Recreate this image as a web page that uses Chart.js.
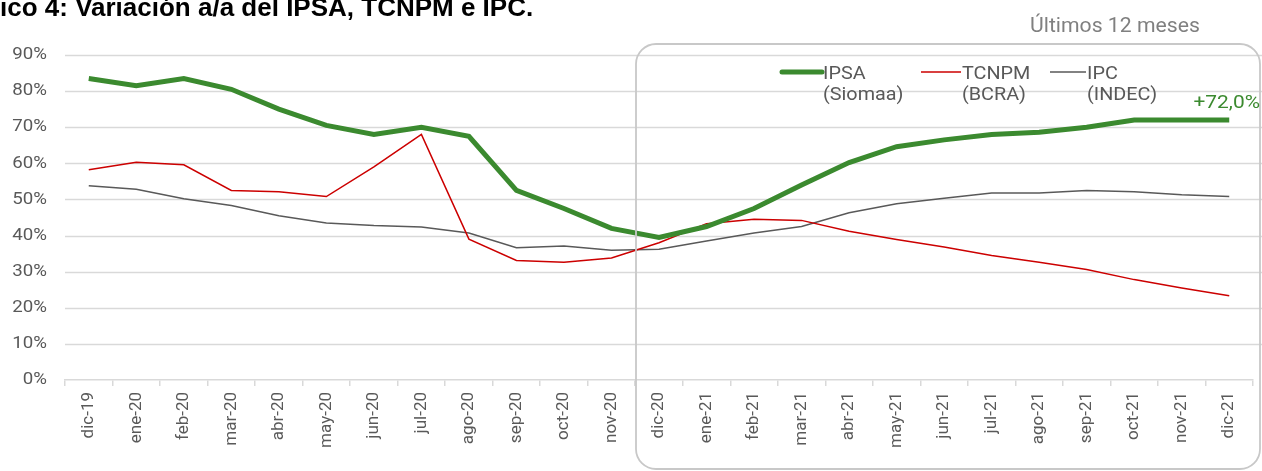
<!DOCTYPE html>
<html lang="es">
<head>
<meta charset="UTF-8">
<title>Variación a/a del IPSA, TCNPM e IPC</title>
<script src="https://cdn.jsdelivr.net/npm/chart.js"></script>
<style>
  body { margin: 0; background: #fff; }
  #wrap { position: relative; width: 1262px; height: 471px; overflow: hidden; }
</style>
</head>
<body>
<div id="wrap">
  <canvas id="lineChart" width="1262" height="471"></canvas>
</div>
<script type="text/javascript">
// meses
var meses = ['dic-19','ene-20','feb-20','mar-20','abr-20','may-20','jun-20','jul-20','ago-20','sep-20','oct-20','nov-20',
             'dic-20','ene-21','feb-21','mar-21','abr-21','may-21','jun-21','jul-21','ago-21','sep-21','oct-21','nov-21','dic-21'];

// variacion a/a en %
var ipsa  = [83.5, 81.5, 83.5, 80.5, 75.0, 70.5, 68.0, 70.0, 67.5, 52.5, 47.5, 42.0,
             39.5, 42.5, 47.5, 54.0, 60.2, 64.6, 66.5, 68.0, 68.6, 70.0, 72.0, 72.0, 72.0];
var tcnpm = [58.2, 60.3, 59.6, 52.5, 52.1, 50.8, 59.0, 68.0, 39.0, 33.1, 32.6, 33.8,
             38.0, 43.3, 44.5, 44.2, 41.2, 38.9, 36.8, 34.5, 32.6, 30.6, 27.8, 25.5, 23.3];
var ipc   = [53.8, 52.8, 50.2, 48.3, 45.5, 43.5, 42.8, 42.4, 40.7, 36.6, 37.1, 35.9,
             36.2, 38.5, 40.7, 42.5, 46.3, 48.8, 50.3, 51.8, 51.8, 52.5, 52.1, 51.3, 50.8];

var yTicks = [0, 10, 20, 30, 40, 50, 60, 70, 80, 90];

var verde = '#3b8a2f';
var rojo  = '#cc0000';
var gris  = '#595959';

// el grafico original esta algo estirado a lo ancho
function texto(ctx, s, x, y, align, sx) {
  ctx.save();
  ctx.translate(x, y);
  ctx.scale(sx, 1);
  ctx.textAlign = align;
  ctx.fillText(s, 0, 0);
  ctx.restore();
}

// grilla horizontal hasta el borde + recuadro "ultimos 12 meses" + textos
var extras = {
  id: 'extras',
  beforeDatasetsDraw: function (chart) {
    var ctx = chart.ctx, y = chart.scales.y;
    ctx.save();
    ctx.strokeStyle = '#d9d9d9';
    ctx.lineWidth = 1.5;
    yTicks.forEach(function (v) {
      if (v === 0) return;
      var py = Math.round(y.getPixelForValue(v)) + 0.5;
      ctx.beginPath();
      ctx.moveTo(chart.chartArea.left, py);
      ctx.lineTo(chart.width, py);
      ctx.stroke();
    });
    // etiquetas del eje y
    ctx.fillStyle = gris;
    ctx.font = '17px Roboto';
    ctx.textBaseline = 'middle';
    yTicks.forEach(function (v) {
      texto(ctx, v + '%', 47, y.getPixelForValue(v), 'right', 1.1);
    });
    ctx.restore();
  },
  afterDraw: function (chart) {
    var ctx = chart.ctx;
    ctx.save();
    // recuadro
    ctx.strokeStyle = '#c8c8c8';
    ctx.lineWidth = 1.8;
    ctx.beginPath();
    ctx.roundRect(636, 44, 624, 425, 20);
    ctx.stroke();

    ctx.textBaseline = 'alphabetic';
    // titulo (cortado arriba a la izquierda)
    ctx.fillStyle = '#000';
    ctx.font = 'bold 26px "Liberation Sans", Arial, sans-serif';
    texto(ctx, 'ico 4: Variación a/a del IPSA, TCNPM e IPC.', 0, 16, 'left', 1);

    ctx.fillStyle = '#808080';
    ctx.font = '20px Roboto';
    texto(ctx, 'Últimos 12 meses', 1030, 32, 'left', 1.06);

    // leyenda
    var items = [
      { x: 782, w: 40, color: verde, lw: 5, l1: 'IPSA', l2: '(Siomaa)' },
      { x: 921, w: 40, color: rojo, lw: 1.5, l1: 'TCNPM', l2: '(BCRA)' },
      { x: 1050, w: 36, color: gris, lw: 1.5, l1: 'IPC', l2: '(INDEC)' }
    ];
    ctx.font = '18px Roboto';
    items.forEach(function (it) {
      ctx.strokeStyle = it.color;
      ctx.lineWidth = it.lw;
      ctx.lineCap = it.lw > 2 ? 'round' : 'butt';
      ctx.beginPath();
      ctx.moveTo(it.x, 72);
      ctx.lineTo(it.x + it.w, 72);
      ctx.stroke();
      ctx.fillStyle = gris;
      texto(ctx, it.l1, it.x + it.w + 1, 79, 'left', 1.1);
      texto(ctx, it.l2, it.x + it.w + 1, 100, 'left', 1.1);
    });

    // etiqueta ultimo dato
    ctx.fillStyle = verde;
    ctx.font = '19px Roboto';
    texto(ctx, '+' + ipsa[ipsa.length - 1].toFixed(1).replace('.', ',') + '%', 1260, 108, 'right', 1.1);
    ctx.restore();
  }
};

var ctx = document.getElementById('lineChart').getContext('2d');
var myChart = new Chart(ctx, {
  type: 'line',
  data: {
    labels: meses,
    datasets: [
      { label: 'IPSA (Siomaa)', data: ipsa, borderColor: verde, borderWidth: 5, pointRadius: 0, fill: false, order: 0 },
      { label: 'TCNPM (BCRA)', data: tcnpm, borderColor: rojo, borderWidth: 1.5, pointRadius: 0, fill: false, order: 1 },
      { label: 'IPC (INDEC)', data: ipc, borderColor: gris, borderWidth: 1.5, pointRadius: 0, fill: false, order: 2 }
    ]
  },
  options: {
    responsive: false,
    animation: false,
    layout: { padding: { top: 55, right: 9, left: 0, bottom: 0 } },
    plugins: { legend: { display: false }, tooltip: { enabled: false } },
    scales: {
      x: {
        type: 'category',
        offset: true,
        afterFit: function (s) { s.height = 91; },
        grid: { offset: true, drawOnChartArea: false, drawTicks: true, tickLength: 6, color: '#d9d9d9', lineWidth: 1.5 },
        border: { color: '#d9d9d9', width: 1.5 },
        ticks: { color: gris, font: { family: 'Roboto', size: 17 }, minRotation: 90, maxRotation: 90, padding: 6, autoSkip: false }
      },
      y: {
        min: 0, max: 90,
        afterFit: function (s) { s.width = 65; },
        afterBuildTicks: function (s) { s.ticks = yTicks.map(function (v) { return { value: v }; }); },
        grid: { display: false, drawTicks: false },
        border: { display: false },
        ticks: { display: false }
      }
    }
  },
  plugins: [extras]
});
</script>
</body>
</html>
